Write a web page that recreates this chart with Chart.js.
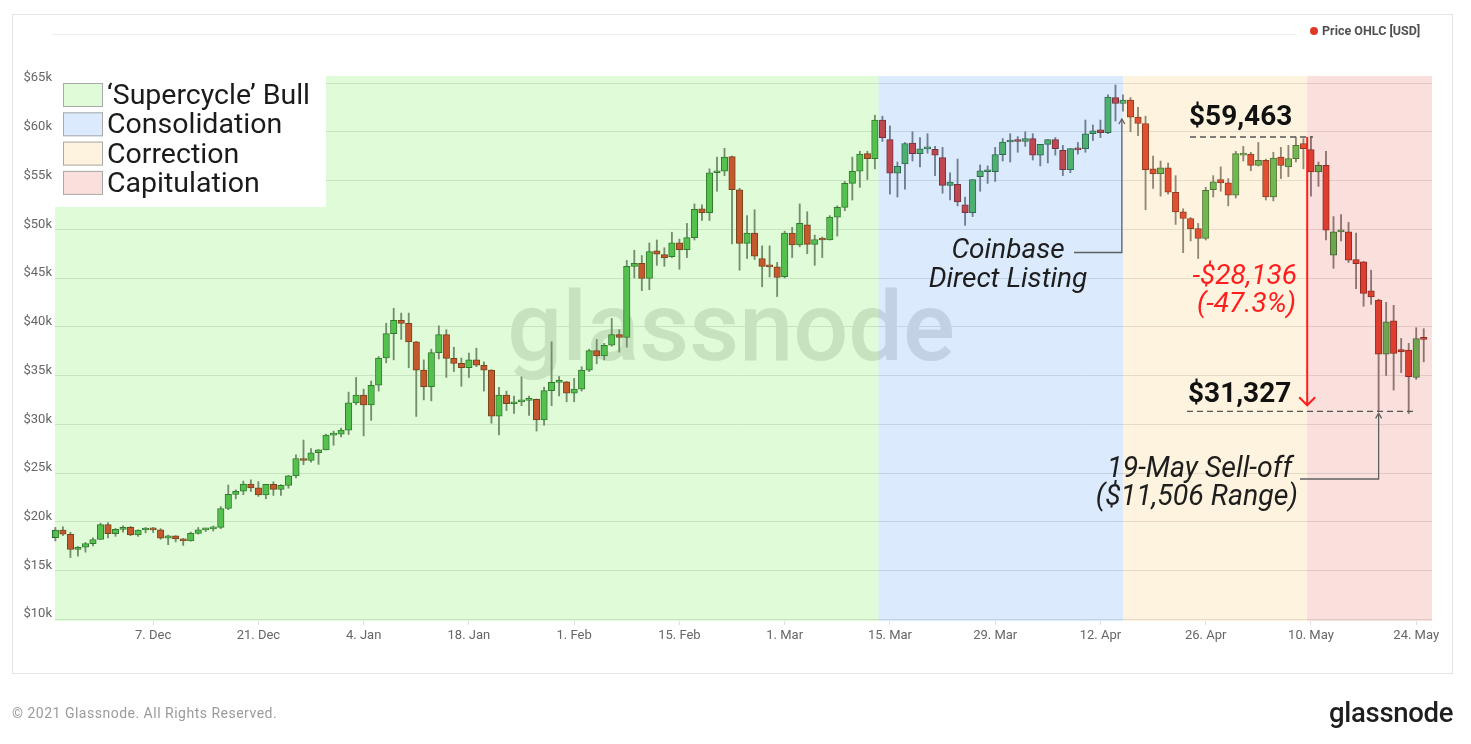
<!DOCTYPE html>
<html>
<head>
<meta charset="utf-8">
<script src="https://cdn.jsdelivr.net/npm/chart.js@4.4.0/dist/chart.umd.min.js"></script>
<style>
html, body { margin: 0; padding: 0; background: #fff; }
body { width: 1471px; height: 744px; position: relative; overflow: hidden; font-family: Roboto, "Noto Sans", Arial, sans-serif; }
#frame { position: absolute; left: 12px; top: 14px; width: 1441px; height: 660px; border: 1px solid #e4e4e4; box-sizing: border-box; }
#chart { position: absolute; left: 0; top: 0; }
#copy { position: absolute; left: 12px; top: 705px; font-size: 14px; letter-spacing: 0.5px; color: #9b9b9b; }
#logo { position: absolute; left: 1329px; top: 696px; font-size: 27.5px; font-weight: 500; color: #1e1e1e; letter-spacing: -0.3px; }
</style>
</head>
<body>
<div id="frame"></div>
<canvas id="chart" width="1471" height="744"></canvas>
<div id="copy">© 2021 Glassnode. All Rights Reserved.</div>
<div id="logo">glassnode</div>
<script>
// day index 0 = 24 Nov 2020, one candle per day
const firstDay = '2020-11-24';
const tickDays = [13, 27, 41, 55, 69, 83, 97, 111, 125, 139, 153, 167, 181];
const tickLabels = ['7. Dec', '21. Dec', '4. Jan', '18. Jan', '1. Feb', '15. Feb', '1. Mar',
  '15. Mar', '29. Mar', '12. Apr', '26. Apr', '10. May', '24. May'];
const yTicks = [10000, 15000, 20000, 25000, 30000, 35000, 40000, 45000, 50000, 55000, 60000, 65000];

const open = [
  18360, 19150, 18720, 17150, 17380, 17760, 18180, 19700, 18790, 19210,
  19440, 18650, 19150, 19360, 19170, 18320, 18550, 18250, 18030, 18800,
  19170, 19270, 19430, 21360, 22800, 23130, 23860, 23480, 22750, 23830,
  23320, 23730, 24710, 26490, 26280, 27080, 27370, 28880, 28990, 29400,
  32200, 33000, 31990, 34000, 36800, 39300, 40650, 40350, 38450, 35550,
  33850, 37350, 39200, 36750, 36250, 35800, 36600, 36050, 35550, 30840,
  33000, 32100, 32300, 32450, 32550, 30450, 33450, 34300, 34350, 33200,
  33600, 35550, 37550, 37000, 38100, 39200, 38900, 46200, 46500, 44950,
  47800, 47400, 47200, 48600, 47900, 49150, 52100, 51700, 55800, 55950,
  57450, 54050, 48550, 49600, 47000, 46200, 46150, 45150, 49600, 48400,
  50450, 48450, 48950, 48900, 51250, 52250, 54700, 55950, 57750, 57250,
  61200, 59200, 55750, 56700, 58850, 57750, 58250, 58200, 57350, 54500,
  54600, 52500, 51700, 55400, 55900, 55900, 57650, 58950, 59100, 59000,
  59300, 57600, 58700, 59200, 58100, 56100, 58270, 58270, 59800, 60200,
  59900, 63500, 62900, 63250, 61500, 60850, 56200, 55700, 56300, 53800,
  51780, 51100, 50070, 49050, 54050, 55100, 54750, 53500, 57600, 57700,
  56560, 57080, 53320, 57400, 56400, 57250, 58800, 58170, 55880, 56560,
  47340, 49730, 49730, 46900, 46660, 43680, 42730, 37190, 40600, 37670,
  37600, 34800, 38860
];
const high = [
  19420, 19490, 18920, 17460, 17880, 18340, 19860, 19920, 19310, 19590,
  19520, 19170, 19420, 19420, 19290, 18640, 18570, 18290, 18950, 19410,
  19340, 19560, 21550, 23770, 23280, 24170, 24300, 24120, 23830, 24100,
  23800, 24770, 26870, 28380, 27500, 27410, 28990, 29300, 29600, 33300,
  34800, 33600, 34440, 36940, 40360, 41900, 41400, 41400, 38500, 36600,
  37700, 40100, 39700, 37900, 36800, 37300, 37800, 36400, 35600, 33800,
  33400, 32900, 34850, 32900, 32600, 33800, 38450, 34900, 34400, 34700,
  35900, 37700, 38700, 38300, 40850, 39700, 46800, 47850, 47300, 48600,
  48900, 48100, 49700, 49000, 50600, 52600, 52500, 56200, 57400, 58300,
  57500, 54200, 51400, 52000, 48300, 48300, 46600, 49800, 50200, 52600,
  51800, 49400, 49200, 51400, 52400, 54900, 57400, 58000, 58000, 61700,
  61600, 60600, 56900, 58900, 60000, 59400, 59800, 58500, 58400, 55800,
  57200, 53300, 55100, 56600, 56500, 58400, 59300, 59800, 59500, 60000,
  59800, 58500, 59200, 59400, 58600, 58300, 58900, 61200, 60700, 61200,
  63800, 64800, 63800, 63500, 62500, 61600, 57500, 57000, 56800, 55500,
  52100, 51200, 50600, 54300, 55500, 56400, 55200, 58000, 58500, 57900,
  58900, 57200, 57900, 58400, 58600, 59463, 59300, 59500, 56900, 58000,
  51300, 51500, 50700, 49600, 46700, 45800, 42833, 42500, 42200, 38800,
  38300, 39900, 39800
];
const low = [
  18030, 18580, 16330, 16460, 16880, 17530, 18180, 18330, 18510, 18920,
  18570, 18500, 18860, 18900, 18200, 17650, 17930, 17570, 18010, 18730,
  19000, 19050, 19290, 21240, 22350, 22780, 23100, 22600, 22360, 22700,
  22700, 23440, 24500, 25850, 26100, 25880, 27360, 27850, 28700, 28950,
  32000, 28800, 30400, 33400, 36300, 36600, 38700, 35800, 30800, 32500,
  32400, 36700, 34800, 35400, 33900, 34800, 35900, 33400, 30100, 28900,
  31400, 31100, 31900, 30900, 29300, 29900, 31900, 32900, 32300, 32300,
  33400, 35400, 36200, 36600, 38000, 37400, 37900, 45000, 43700, 43800,
  46300, 46200, 47100, 45900, 47100, 48900, 50900, 50900, 53900, 55500,
  48500, 45800, 47000, 46900, 44100, 45100, 43100, 45000, 47100, 48200,
  47500, 46300, 47100, 48900, 49300, 51900, 53000, 54300, 55100, 56200,
  59000, 53600, 53300, 54100, 57000, 56400, 57800, 55500, 53700, 53000,
  52400, 50400, 51300, 53900, 54700, 54900, 57000, 56900, 57900, 58500,
  57100, 56500, 56800, 57600, 55500, 55800, 57700, 57900, 59100, 59400,
  59800, 61100, 62100, 60000, 59600, 52000, 54200, 53400, 53600, 50500,
  47600, 48800, 47000, 48900, 53300, 53900, 52400, 53200, 57000, 56000,
  56500, 53000, 52900, 55200, 55400, 56900, 56200, 53400, 54400, 48900,
  46000, 48800, 46600, 43900, 42100, 42300, 31327, 35000, 33500, 35300,
  31100, 34600, 36400
];
const close = [
  19150, 18720, 17150, 17380, 17760, 18180, 19700, 18790, 19210, 19440,
  18650, 19150, 19360, 19170, 18320, 18550, 18250, 18030, 18800, 19170,
  19270, 19430, 21360, 22800, 23130, 23860, 23480, 22750, 23830, 23320,
  23730, 24710, 26490, 26280, 27080, 27370, 28880, 28990, 29400, 32200,
  33000, 31990, 34000, 36800, 39300, 40650, 40350, 38450, 35550, 33850,
  37350, 39200, 36750, 36250, 35800, 36600, 36050, 35550, 30840, 33000,
  32100, 32300, 32450, 32550, 30450, 33450, 34300, 34350, 33200, 33600,
  35550, 37550, 37000, 38100, 39200, 38900, 46200, 46500, 44950, 47700,
  47450, 47050, 48600, 47900, 49150, 52050, 51700, 55800, 55950, 57400,
  54050, 48550, 49600, 47250, 46200, 46150, 45050, 49600, 48400, 50600,
  48450, 48950, 48900, 51250, 52250, 54700, 55950, 57700, 57250, 61200,
  59400, 55750, 56450, 58800, 57750, 58250, 58300, 57600, 54500, 54850,
  52800, 51700, 55100, 56000, 55900, 57650, 58950, 59050, 59000, 59300,
  57600, 58700, 59200, 58270, 56100, 58270, 58150, 59800, 60100, 59900,
  63550, 62900, 63250, 61500, 60850, 56120, 55700, 56300, 53800, 51780,
  51100, 50070, 49050, 54000, 54860, 54750, 53500, 57760, 57800, 56560,
  57080, 53320, 57300, 56560, 57250, 58600, 58270, 55880, 56560, 49900,
  49730, 49760, 46830, 46480, 43410, 43070, 37190, 40500, 37260, 37430,
  34870, 38800, 38700
];

// market phases (day index ranges)
const phaseNames = ['\u2018Supercycle\u2019 Bull', 'Consolidation', 'Correction', 'Capitulation'];
const phaseFrom = [-0.5, 109.5, 142, 166.5];
const phaseTo = [109.5, 142, 166.5, 184];
const phaseTint = ['rgb(100,235,60)', 'rgb(75,150,240)', 'rgb(245,195,90)', 'rgb(230,100,80)'];

const listingDay = 141.85;
const sellOffDay = 176;
const cycleHigh = 59463;
const cycleLow = 31327;
const drop = 28136;
const dropPct = '-47.3%';
const sellOffRange = 11506;

const FONT = 'Roboto, "Noto Sans", Arial, sans-serif';
const upColor = 'rgb(80,182,82)', downColor = 'rgb(222,52,40)';
const fmt = (v) => '$' + v.toLocaleString('en-US');

const phasePlugin = {
  id: 'phases',
  beforeDatasetsDraw(chart) {
    const { ctx, chartArea: a } = chart;
    ctx.save();
    ctx.font = '500 97px ' + FONT;
    ctx.fillStyle = 'rgb(224,224,224)';
    ctx.textAlign = 'center';
    ctx.textBaseline = 'alphabetic';
    ctx.fillText('glassnode', a.left + a.width * 0.491, 360);
    ctx.restore();
  },
  afterDatasetsDraw(chart) {
    const { ctx, chartArea: a, scales: { x } } = chart;
    ctx.save();
    ctx.beginPath();
    ctx.rect(a.left, a.top, a.width, a.height);
    ctx.clip();
    ctx.globalAlpha = 0.2;
    phaseNames.forEach((n, k) => {
      const x0 = x.getPixelForValue(phaseFrom[k]);
      const x1 = x.getPixelForValue(phaseTo[k]);
      ctx.fillStyle = phaseTint[k];
      ctx.fillRect(x0, a.top, x1 - x0, a.height);
    });
    ctx.restore();
  },
  afterDraw(chart) {
    const { ctx, chartArea: a, scales: { x, y } } = chart;
    const X = (v) => x.getPixelForValue(v), Y = (v) => y.getPixelForValue(v);
    ctx.save();

    // faint top rule
    ctx.strokeStyle = '#efefef';
    ctx.lineWidth = 1;
    ctx.beginPath();
    ctx.moveTo(52, 34.5);
    ctx.lineTo(1296, 34.5);
    ctx.stroke();

    // phase legend box
    ctx.fillStyle = '#fff';
    ctx.fillRect(a.left, a.top, 271, 131);
    phaseNames.forEach((n, k) => {
      const cy = 95 + k * 29.3;
      ctx.fillStyle = '#fff';
      ctx.fillRect(63, cy - 12, 40, 24);
      ctx.globalAlpha = 0.2;
      ctx.fillStyle = phaseTint[k];
      ctx.fillRect(63, cy - 12, 40, 24);
      ctx.globalAlpha = 1;
      ctx.strokeStyle = '#a9a9a9';
      ctx.lineWidth = 1;
      ctx.strokeRect(63.5, cy - 11.5, 39, 23);
      ctx.fillStyle = '#1b1b1b';
      ctx.font = '28.5px ' + FONT;
      ctx.textAlign = 'left';
      ctx.textBaseline = 'middle';
      ctx.fillText(n, 107, cy + 2);
    });

    // series legend, top right
    ctx.fillStyle = 'rgb(222,58,40)';
    ctx.beginPath();
    ctx.arc(1314, 31, 4, 0, Math.PI * 2);
    ctx.fill();
    ctx.fillStyle = '#505050';
    ctx.font = 'bold 12.5px ' + FONT;
    ctx.textAlign = 'left';
    ctx.textBaseline = 'middle';
    ctx.fillText('Price OHLC [USD]', 1322, 31.5);

    const arrowUp = (px, py) => {
      ctx.beginPath();
      ctx.moveTo(px - 3, py + 5);
      ctx.lineTo(px, py);
      ctx.lineTo(px + 3, py + 5);
      ctx.stroke();
    };

    // Coinbase listing
    ctx.strokeStyle = '#606060';
    ctx.lineWidth = 1.3;
    const lx = X(listingDay);
    ctx.beginPath();
    ctx.moveTo(1074, 252.5);
    ctx.lineTo(lx, 252.5);
    ctx.lineTo(lx, 119);
    ctx.stroke();
    arrowUp(lx, 119);
    ctx.fillStyle = '#1e1e1e';
    ctx.font = 'italic 28px ' + FONT;
    ctx.textAlign = 'center';
    ctx.textBaseline = 'middle';
    ctx.fillText('Coinbase', 1008, 251);
    ctx.fillText('Direct Listing', 1008, 280);

    // high / low levels
    ctx.strokeStyle = '#555';
    ctx.lineWidth = 1.3;
    ctx.setLineDash([6, 4]);
    ctx.beginPath();
    ctx.moveTo(1190, Y(cycleHigh));
    ctx.lineTo(1313, Y(cycleHigh));
    ctx.moveTo(1187, Y(cycleLow));
    ctx.lineTo(1413, Y(cycleLow));
    ctx.stroke();
    ctx.setLineDash([]);
    ctx.fillStyle = '#111';
    ctx.font = 'bold 28px ' + FONT;
    ctx.textAlign = 'left';
    ctx.fillText(fmt(cycleHigh), 1189, 118);
    ctx.fillText(fmt(cycleLow), 1188, 395);

    // drawdown arrow
    const ax = X(phaseFrom[3]);
    ctx.strokeStyle = 'rgb(255,30,30)';
    ctx.lineWidth = 2;
    ctx.beginPath();
    ctx.moveTo(ax, Y(cycleHigh));
    ctx.lineTo(ax, Y(cycleLow) - 6);
    ctx.moveTo(ax - 8, Y(cycleLow) - 14);
    ctx.lineTo(ax, Y(cycleLow) - 6);
    ctx.lineTo(ax + 8, Y(cycleLow) - 14);
    ctx.stroke();
    ctx.fillStyle = 'rgb(255,30,30)';
    ctx.font = 'italic 28px ' + FONT;
    ctx.textAlign = 'right';
    ctx.fillText('-' + fmt(drop), 1297, 277);
    ctx.fillText('(' + dropPct + ')', 1296, 305);

    // 19 May sell-off
    const sx = X(sellOffDay);
    ctx.strokeStyle = '#606060';
    ctx.lineWidth = 1.3;
    ctx.beginPath();
    ctx.moveTo(1300, 479);
    ctx.lineTo(sx, 479);
    ctx.lineTo(sx, Y(cycleLow) + 2);
    ctx.stroke();
    arrowUp(sx, Y(cycleLow) + 2);
    ctx.fillStyle = '#1e1e1e';
    ctx.font = 'italic 28.5px ' + FONT;
    ctx.textAlign = 'right';
    ctx.fillText('19-May Sell-off', 1292, 470);
    ctx.fillText('(' + fmt(sellOffRange) + ' Range)', 1298, 498);

    ctx.restore();
  }
};

const idx = close.map((_, i) => i);

new Chart(document.getElementById('chart'), {
  type: 'bar',
  data: {
    datasets: [
      {
        label: 'body',
        order: 1,
        data: idx.map(i => ({ x: i, y: [open[i], close[i]] })),
        backgroundColor: (c) => close[c.dataIndex] >= open[c.dataIndex] ? upColor : downColor,
        borderColor: (c) => close[c.dataIndex] >= open[c.dataIndex] ? 'rgb(38,96,42)' : 'rgb(120,28,20)',
        borderWidth: 1,
        borderSkipped: false,
        barThickness: 6.5,
        minBarLength: 2,
        grouped: false,
        clip: false
      },
      {
        label: 'wick',
        order: 2,
        data: idx.map(i => ({ x: i, y: [low[i], high[i]] })),
        backgroundColor: 'rgb(120,120,120)',
        barThickness: 1.2,
        grouped: false,
        clip: false
      }
    ]
  },
  options: {
    responsive: false,
    animation: false,
    events: [],
    layout: { padding: { left: 0, right: 39, top: 76, bottom: 98 } },
    plugins: { legend: { display: false }, tooltip: { enabled: false } },
    scales: {
      x: {
        type: 'linear',
        min: -0.05,
        max: 183.1,
        offset: false,
        afterFit: (s) => { s.height = 25; },
        afterBuildTicks: (s) => { s.ticks = tickDays.map(v => ({ value: v })); },
        grid: { offset: false, drawOnChartArea: false, drawTicks: true, tickLength: 4, color: '#e0e0e0' },
        border: { display: false },
        ticks: {
          padding: 3,
          maxRotation: 0,
          autoSkip: false,
          color: '#666',
          font: { family: FONT, size: 13 },
          callback: (v) => tickLabels[tickDays.indexOf(v)]
        }
      },
      y: {
        min: 9820,
        max: 65720,
        afterFit: (s) => { s.width = 55; },
        afterBuildTicks: (s) => { s.ticks = yTicks.map(v => ({ value: v })); },
        grid: { color: '#e2e2e2', drawTicks: false },
        border: { display: false },
        ticks: {
          padding: 3,
          labelOffset: -5,
          color: '#666',
          font: { family: FONT, size: 13 },
          callback: (v) => '$' + (v / 1000) + 'k'
        }
      }
    }
  },
  plugins: [phasePlugin]
});
</script>
</body>
</html>
